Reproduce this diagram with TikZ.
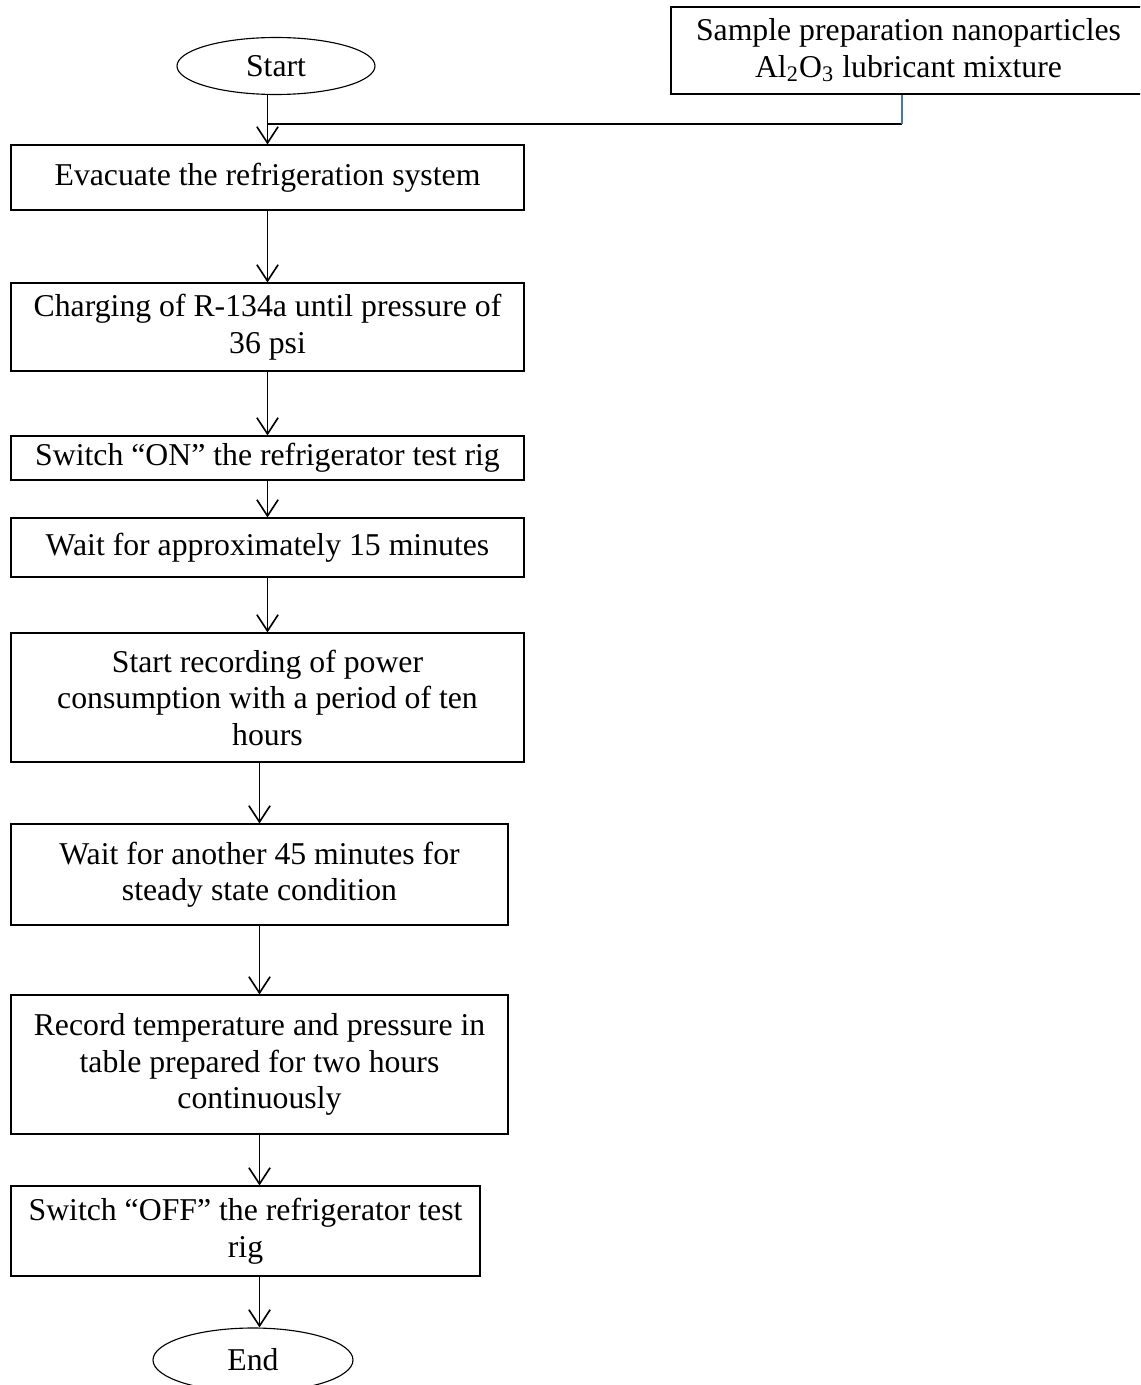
\documentclass[tikz,border=0pt]{standalone}
\usepackage{fontspec}
\setmainfont{Liberation Serif}
\usetikzlibrary{shapes.geometric,arrows.meta}

\begin{document}
\begin{tikzpicture}[x=0.4pt,y=-0.4pt,
    every node/.style={font=\fontsize{12.7}{14.6}\selectfont},
    stepbox/.style={draw,rectangle,align=center,inner sep=0pt,line width=0.45pt},
    term/.style={draw,ellipse,inner sep=0pt,line width=0.45pt},
    arr/.style={line width=0.65pt,-{Straight Barb[length=6.5pt,width=8.5pt,line width=0.65pt]}}]

    \path[use as bounding box,clip] (0,0) rectangle (1140,1385);

    \node[term,minimum width=79.2pt,minimum height=22.8pt] (start) at (276,66) {Start};
    \node[stepbox,minimum width=190pt,minimum height=34.8pt] (sample) at (908.5,50.5)
        {Sample preparation nanoparticles\\Al\textsubscript{2}O\textsubscript{3} lubricant mixture};

    \node[stepbox,minimum width=205.2pt,minimum height=26pt] (b1) at (267.5,177.5)
        {Evacuate the refrigeration system};
    \node[stepbox,minimum width=205.2pt,minimum height=35.2pt] (b2) at (267.5,327)
        {Charging of R-134a until pressure of\\36 psi};
    \node[stepbox,minimum width=205.2pt,minimum height=17.6pt] (b3) at (267.5,458)
        {Switch “ON” the refrigerator test rig};
    \node[stepbox,minimum width=205.2pt,minimum height=23.6pt] (b4) at (267.5,547.5)
        {Wait for approximately 15 minutes};
    \node[stepbox,minimum width=205.2pt,minimum height=51.6pt] (b5) at (267.5,697.5)
        {Start recording of power\\consumption with a period of ten\\hours};
    \node[stepbox,minimum width=198.8pt,minimum height=40.4pt] (b6) at (259.5,874.5)
        {Wait for another 45 minutes for\\steady state condition};
    \node[stepbox,minimum width=198.8pt,minimum height=55.6pt] (b7) at (259.5,1064.5)
        {Record temperature and pressure in\\table prepared for two hours\\continuously};
    \node[stepbox,minimum width=187.6pt,minimum height=36pt] (b8) at (245.5,1231)
        {Switch “OFF” the refrigerator test\\rig};
    \node[term,minimum width=80pt,minimum height=25.6pt] (end) at (253,1360) {End};

    \coordinate (j) at (268,124);
    \coordinate (k) at (902,124);
    \draw[line width=0.8pt] (j) -- (k);
    \draw[line width=0.5pt,color={rgb,255:red,68;green,114;blue,196}] (sample.south -| k) -- (k);

    \draw[arr] (start.south -| b1.north) -- (b1.north);
    \draw[arr] (b1) -- (b2);
    \draw[arr] (b2) -- (b3);
    \draw[arr] (b3) -- (b4);
    \draw[arr] (b4) -- (b5);
    \draw[arr] (b5.south -| b6.north) -- (b6.north);
    \draw[arr] (b6) -- (b7);
    \draw[arr] (b7.south) -- (b8.north -| b7.south);
    \draw[arr] (b8.south -| b7.south) -- (end.north -| b7.south);
\end{tikzpicture}
\end{document}
